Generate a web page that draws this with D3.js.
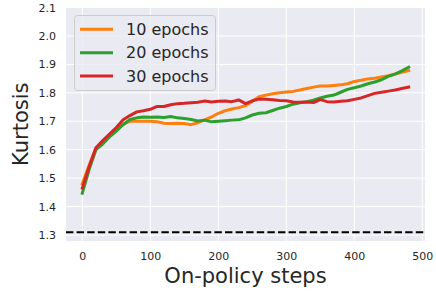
<!DOCTYPE html>
<html><head><meta charset="utf-8">
<script src="https://cdn.jsdelivr.net/npm/d3@7"></script>
<style>body{margin:0;background:#fff}svg{display:block;font-family:"DejaVu Sans",sans-serif}</style>
</head><body><svg id="c" width="436" height="294"></svg>
<script>
const steps = d3.range(0, 481, 10);
const epochs10 = [1.48,1.545,1.605,1.63,1.65,1.67,1.69,1.70,1.70,1.70,1.70,1.698,1.693,1.692,1.693,1.692,1.688,1.695,1.705,1.715,1.728,1.737,1.743,1.748,1.755,1.77,1.786,1.792,1.797,1.80,1.803,1.805,1.81,1.815,1.82,1.824,1.824,1.826,1.828,1.832,1.84,1.844,1.849,1.851,1.856,1.86,1.866,1.872,1.878];
const epochs20 = [1.447,1.53,1.60,1.62,1.645,1.665,1.688,1.706,1.712,1.715,1.714,1.715,1.713,1.717,1.712,1.71,1.706,1.701,1.704,1.698,1.70,1.702,1.704,1.705,1.712,1.722,1.728,1.73,1.738,1.746,1.752,1.76,1.765,1.769,1.774,1.782,1.788,1.792,1.802,1.812,1.818,1.824,1.832,1.838,1.846,1.858,1.866,1.877,1.89];
const epochs30 = [1.465,1.54,1.607,1.632,1.655,1.678,1.705,1.72,1.733,1.737,1.742,1.752,1.752,1.758,1.762,1.763,1.765,1.767,1.771,1.768,1.77,1.771,1.769,1.775,1.762,1.772,1.778,1.777,1.776,1.773,1.772,1.768,1.767,1.768,1.766,1.776,1.769,1.768,1.77,1.772,1.777,1.782,1.79,1.798,1.802,1.806,1.81,1.815,1.82];
const seriesNames = ["10 epochs","20 epochs","30 epochs"];
const seriesColors = ["#ff7f0e","#2ca02c","#d62728"];
const baseline = 1.31;
const xTicks = [0,100,200,300,400,500];
const yTicks = [1.3,1.4,1.5,1.6,1.7,1.8,1.9,2.0,2.1];

const series = [epochs10, epochs20, epochs30];
const svg = d3.select("#c");
const L=66, R=425, T=7.5, B=241;
const x = d3.scaleLinear().domain([-24,504]).range([L,R]);
const y = d3.scaleLinear().domain([1.279,2.1]).range([B,T]);

svg.append("rect").attr("x",L).attr("y",T).attr("width",R-L).attr("height",B-T).attr("fill","#eaeaf2");
const gx = svg.append("g");
xTicks.forEach(t=>gx.append("line").attr("x1",x(t)).attr("x2",x(t)).attr("y1",T).attr("y2",B).attr("stroke","#fff").attr("stroke-width",1));
yTicks.forEach(t=>gx.append("line").attr("x1",L).attr("x2",R).attr("y1",y(t)).attr("y2",y(t)).attr("stroke","#fff").attr("stroke-width",1));

const xa = svg.append("g").attr("transform",`translate(0,${B})`)
  .call(d3.axisBottom(x).tickValues(xTicks).tickSize(0).tickPadding(11).tickFormat(d3.format("d")));
const ya = svg.append("g").attr("transform",`translate(${L},0)`)
  .call(d3.axisLeft(y).tickValues(yTicks).tickSize(0).tickPadding(10).tickFormat(d3.format(".1f")));
[xa,ya].forEach(a=>{a.select(".domain").remove();a.selectAll("text").attr("font-size",11).attr("fill","#262626").attr("font-family","DejaVu Sans");});

svg.append("line").attr("x1",L).attr("x2",R).attr("y1",y(baseline)).attr("y2",y(baseline))
  .attr("stroke","#000").attr("stroke-width",2).attr("stroke-dasharray","7.4,3.2");

const line = d3.line().x((d,i)=>x(steps[i])).y(d=>y(d));
series.forEach((s,k)=>{
  svg.append("path").datum(s).attr("d",line).attr("fill","none").attr("stroke",seriesColors[k])
    .attr("stroke-width",3).attr("stroke-linejoin","round").attr("stroke-linecap","square");
});

// legend
const lg = svg.append("g");
lg.append("rect").attr("x",74.5).attr("y",15.5).attr("width",141).attr("height",75).attr("rx",3)
  .attr("fill","#eaeaf2").attr("fill-opacity",0.8).attr("stroke","#cccccc").attr("stroke-width",1);
seriesNames.forEach((n,i)=>{
  const yy = 29.3 + i*23.4;
  lg.append("line").attr("x1",80).attr("x2",113).attr("y1",yy).attr("y2",yy).attr("stroke",seriesColors[i]).attr("stroke-width",3);
  lg.append("text").attr("x",126).attr("y",yy).attr("dy","0.36em").attr("font-size",16).attr("fill","#262626").text(n);
});

svg.append("text").attr("x",(L+R)/2).attr("y",283).attr("text-anchor","middle").attr("font-size",21).attr("fill","#262626").text("On-policy steps");
svg.append("text").attr("transform",`translate(28,${(T+B)/2}) rotate(-90)`).attr("text-anchor","middle").attr("font-size",21).attr("fill","#262626").text("Kurtosis");
</script></body></html>
